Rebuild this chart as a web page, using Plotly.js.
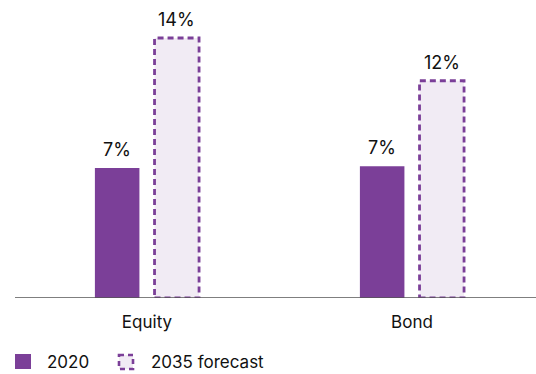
<!DOCTYPE html>
<html>
<head>
<meta charset="utf-8">
<script src="https://cdn.plot.ly/plotly-3.0.1.min.js"></script>
<style>html,body{margin:0;padding:0;background:#fff;}#chart{width:536px;height:374px;}</style>
</head>
<body>
<div id="chart"></div>
<script>
var categories = ["Equity", "Bond"];
var values2020 = [7.0, 7.1];
var valuesForecast = [14.0, 11.7];
var labels2020 = ["7%", "7%"];
var labelsForecast = ["14%", "12%"];
var seriesNames = ["2020", "2035 forecast"];

var PURPLE = "#7b3f98";
var LIGHT = "#f1ebf4";
var TEXT = "#111111";
var FONT = "Inter, 'Noto Sans', sans-serif";

var W = 0.168, G = 0.057;
var off1 = -(W + G / 2), off2 = G / 2;

var M = {l: 15, r: 0, t: 20, b: 76};
var PW = 536 - M.l - M.r, PH = 374 - M.t - M.b;
function px(x) { return (x - M.l) / PW; }
function py(y) { return (374 - M.b - y) / PH; }

var idx = categories.map(function (c, i) { return i; });

var traces = [
  {type: "bar", name: seriesNames[0], x: idx, y: values2020, width: W, offset: off1,
   marker: {color: PURPLE, line: {width: 0}}, hoverinfo: "skip", showlegend: false},
  {type: "bar", name: seriesNames[1], x: idx, y: valuesForecast, width: W, offset: off2,
   marker: {color: LIGHT, line: {width: 0}}, hoverinfo: "skip", showlegend: false}
];

var shapes = [];
var annotations = [];
idx.forEach(function (i) {
  shapes.push({type: "rect", xref: "x", yref: "y", x0: i + off2, x1: i + off2 + W, y0: 0, y1: valuesForecast[i],
    line: {color: PURPLE, width: 2.8, dash: "6px,4px"}, fillcolor: "rgba(0,0,0,0)", layer: "above"});
  annotations.push({xref: "x", yref: "y", x: i + off1 + W / 2, y: values2020[i], text: labels2020[i],
    showarrow: false, yanchor: "bottom", yshift: 6, font: {family: FONT, size: 18, color: TEXT}});
  annotations.push({xref: "x", yref: "y", x: i + off2 + W / 2, y: valuesForecast[i], text: labelsForecast[i],
    showarrow: false, yanchor: "bottom", yshift: 6, font: {family: FONT, size: 18, color: TEXT}});
});

// axis baseline
shapes.push({type: "line", xref: "paper", yref: "y", x0: 0, x1: 1, y0: 0, y1: 0,
  line: {color: "#555555", width: 1.5}, layer: "above"});

// legend
shapes.push({type: "rect", xref: "paper", yref: "paper", x0: px(15), x1: px(31), y0: py(354), y1: py(369),
  fillcolor: PURPLE, line: {width: 0}});
shapes.push({type: "rect", xref: "paper", yref: "paper", x0: px(119), x1: px(133), y0: py(355), y1: py(369),
  fillcolor: LIGHT, line: {color: PURPLE, width: 2.6, dash: "5px,4px"}});
annotations.push({xref: "paper", yref: "paper", x: px(45), y: py(362), xanchor: "left", yanchor: "middle",
  text: seriesNames[0], showarrow: false, font: {family: FONT, size: 17, color: TEXT}});
annotations.push({xref: "paper", yref: "paper", x: px(149), y: py(362), xanchor: "left", yanchor: "middle",
  text: seriesNames[1], showarrow: false, font: {family: FONT, size: 17, color: TEXT}});

var layout = {
  width: 536, height: 374,
  margin: M,
  paper_bgcolor: "#ffffff", plot_bgcolor: "#ffffff",
  barmode: "overlay",
  showlegend: false,
  xaxis: {type: "linear", range: [-0.498, 1.468], tickvals: idx, ticktext: categories,
    showgrid: false, zeroline: false, showline: false, ticks: "", ticklabelstandoff: 12,
    tickfont: {family: FONT, size: 17, color: TEXT}, fixedrange: true},
  yaxis: {range: [0, 14.97], showgrid: false, zeroline: false, showline: false,
    showticklabels: false, ticks: "", fixedrange: true},
  shapes: shapes,
  annotations: annotations,
  font: {family: FONT}
};

Plotly.newPlot("chart", traces, layout, {staticPlot: true, displayModeBar: false});
</script>
</body>
</html>
